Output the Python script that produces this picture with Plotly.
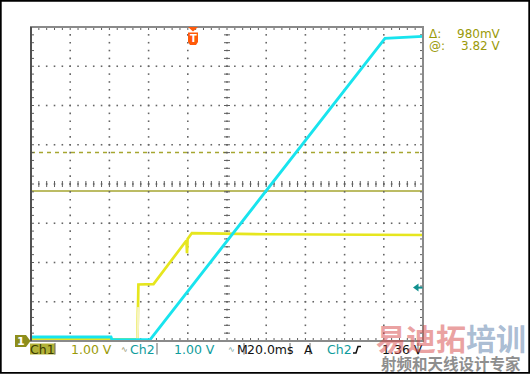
import plotly.graph_objects as go

# ---------------- data (time in ms from left edge, 20 ms/div; volts, 1 V/div) -------------
ch2_t = [0.0, 40.8, 41.3, 60.7, 180.6, 190.0, 200.0]
ch2_v = [0.10, 0.10, 0.03, 0.03, 7.71, 7.73, 7.76]

ch1_t = [0.0, 54.3, 54.8, 62.5, 79.3, 79.6, 79.9, 82.1, 120.0, 160.0, 200.0]
ch1_v = [0.04, 0.04, 1.44, 1.45, 2.56, 2.24, 2.60, 2.75, 2.72, 2.71, 2.70]

cursor_delta_mv = 980
cursor_at_v = 3.82
trigger_level_v = 1.36

bottom_labels = ["Ch1", "1.00 V", "Ch2", "1.00 V", "M", "20.0ms", "A", "Ch2", "1.36 V"]

# ---------------- pixel helpers (graticule: x 31..423 px, y 27..341 px) -------------------
PXX = 39.2 / 20.0      # px per ms
PXY = 39.25            # px per volt


def X(px):
    return (px - 31) / PXX


def Y(py):
    return (341 - py) / PXY


def path(points):
    s = "M " + " L ".join(f"{X(a):.4f},{Y(b):.4f}" for a, b in points)
    return s + " Z"


fig = go.Figure()

# grid dots
gx, gy = [], []
for k in range(1, 10):
    for j in range(41):
        gx.append(20 * k)
        gy.append(0.2 * j)
for k in range(1, 8):
    for i in range(51):
        gx.append(4 * i)
        gy.append(k)
fig.add_trace(go.Scatter(x=gx, y=gy, mode="markers", hoverinfo="skip",
                         marker=dict(symbol="square", size=1.6, color="#666666",
                                     line=dict(width=0))))

# tick marks (edges + centre cross)
tx, ty = [], []
hx = 3 / PXX
hy = 3 / PXY
for i in range(51):
    t = 4 * i
    tx += [t, t, None, t, t, None, t, t, None]
    ty += [8, 8 - hy, None, 0, hy, None, 4 - hy, 4 + hy, None]
for j in range(41):
    v = 0.2 * j
    tx += [0, hx, None, 200, 200 - hx, None, 100 - hx, 100 + hx, None]
    ty += [v, v, None, v, v, None, v, v, None]
fig.add_trace(go.Scatter(x=tx, y=ty, mode="lines", hoverinfo="skip",
                         line=dict(color="#5e5e5e", width=1)))

# Ch1 (yellow) and Ch2 (cyan)
fig.add_trace(go.Scatter(x=ch1_t, y=ch1_v, mode="lines", hoverinfo="skip",
                         line=dict(color="#e6e61e", width=2.7)))
fig.add_trace(go.Scatter(x=ch1_t[1:3], y=[ch1_v[1], ch1_v[2] * 0.6], mode="lines",
                         hoverinfo="skip", line=dict(color="#f6f3c0", width=2.4)))
fig.add_trace(go.Scatter(x=ch2_t, y=ch2_v, mode="lines", hoverinfo="skip",
                         line=dict(color="#18e4ee", width=2.9)))

shapes = []
olive = "#a6a630"
# cursors
shapes.append(dict(type="line", xref="x", yref="y", x0=0, x1=200,
                   y0=cursor_at_v, y1=cursor_at_v, layer="below",
                   line=dict(color=olive, width=1.5)))
v2 = cursor_at_v + cursor_delta_mv / 1000
shapes.append(dict(type="line", xref="x", yref="y", x0=0, x1=200, y0=v2, y1=v2,
                   layer="below", line=dict(color=olive, width=1.5, dash="4px,4px")))
# graticule frame
shapes.append(dict(type="rect", xref="x", yref="y", x0=0, x1=200, y0=0, y1=8,
                   line=dict(color="#8a8a8a", width=2)))
shapes.append(dict(type="line", xref="x", yref="y", x0=0, x1=0, y0=0, y1=8,
                   line=dict(color="#505050", width=2)))
# outer black border
shapes.append(dict(type="rect", xref="x", yref="y", x0=X(0.8), x1=X(529.2),
                   y0=Y(372.8), y1=Y(0.8), line=dict(color="black", width=1.8)))
# ground marker "1"
shapes.append(dict(type="path", xref="x", yref="y",
                   path=path([(15, 335), (26, 335), (30.5, 341), (26, 347), (15, 347)]),
                   fillcolor="#8e8e1c", line=dict(width=0)))
# trigger position marker
shapes.append(dict(type="path", xref="x", yref="y",
                   path=path([(188, 27), (198, 27), (193, 31.5)]),
                   fillcolor="#ff5a0a", line=dict(width=0)))
shapes.append(dict(type="path", xref="x", yref="y",
                   path=path([(188, 32.5), (198, 32.5), (198, 42), (196, 45), (190, 45), (188, 42)]),
                   fillcolor="#ff5a0a", line=dict(width=0)))
# trigger level arrow
tl_py = 341 - trigger_level_v * PXY
shapes.append(dict(type="path", xref="x", yref="y",
                   path=path([(413, tl_py), (418.5, tl_py - 4), (418.5, tl_py + 4)]),
                   fillcolor="#10908f", line=dict(width=0)))
shapes.append(dict(type="line", xref="x", yref="y", x0=X(417), x1=X(422.5),
                   y0=trigger_level_v, y1=trigger_level_v,
                   line=dict(color="#10908f", width=2)))
# Ch1 readout box
shapes.append(dict(type="rect", xref="x", yref="y", x0=X(30), x1=X(55),
                   y0=Y(354.5), y1=Y(343.5), fillcolor="#b2b238", line=dict(width=0)))
# separators
for sx in [55, 157, 244, 290, 310, 418]:
    shapes.append(dict(type="line", xref="x", yref="y", x0=X(sx), x1=X(sx),
                       y0=Y(354.5), y1=Y(343), line=dict(color="#666666", width=1)))
# rising edge symbol
shapes.append(dict(type="path", xref="x", yref="y",
                   path=f"M {X(353):.4f},{Y(353):.4f} L {X(356):.4f},{Y(353):.4f} "
                        f"L {X(358):.4f},{Y(346.5):.4f} L {X(361):.4f},{Y(346.5):.4f}",
                   line=dict(color="#111111", width=1.5)))

annotations = []


def txt(s, px, py, color, size=12.5, anchor="left", family="DejaVu Sans", bold=False):
    annotations.append(dict(xref="x", yref="y", x=X(px), y=Y(py), text=(f"<b>{s}</b>" if bold else s),
                            showarrow=False, xanchor=anchor, yanchor="middle",
                            font=dict(family=family, size=size, color=color)))


yel_txt = "#9a9a08"
teal_txt = "#109c9c"
txt("Δ:", 427, 33.5, yel_txt, 12)
txt(f"{cursor_delta_mv}mV", 503, 33.5, yel_txt, 12, anchor="right")
txt("@:", 427, 45.5, yel_txt, 12)
txt(f"{cursor_at_v:.2f} V", 503, 45.5, yel_txt, 12, anchor="right")

txt("1", 20.5, 341, "white", 11, anchor="center", bold=True)
txt("T", 193, 38.5, "white", 10, anchor="center", bold=True)

by = 349.5
txt(bottom_labels[0], 42.5, by, "#3c3c00", 12.5, anchor="center")
txt(bottom_labels[1], 69, by, yel_txt, 12.5)
txt("∿", 124, by, "#8a8a5a", 8, anchor="center")
txt(bottom_labels[2], 128, by, teal_txt, 12.5)
txt(bottom_labels[3], 172, by, teal_txt, 12.5)
txt("∿", 231, by, "#6a9a9a", 8, anchor="center")
txt(bottom_labels[4], 235, by, "#111111", 12.5)
txt(bottom_labels[5], 245, by, "#111111", 12.5)
txt(bottom_labels[6], 301.5, by, "#111111", 12.5)
txt(bottom_labels[7], 325, by, teal_txt, 12.5)
txt(bottom_labels[8], 380, by, "#111111", 12.5)

# watermark
annotations.append(dict(xref="x", yref="y", x=X(451), y=Y(336.5), showarrow=False,
                        xanchor="center", yanchor="middle",
                        text="<b><span style='color:rgba(214,70,70,0.5)'>易迪拓</span>"
                             "<span style='color:rgba(90,125,170,0.52)'>培训</span></b>",
                        font=dict(family="Noto Sans CJK SC", size=30)))
annotations.append(dict(xref="x", yref="y", x=X(451), y=Y(362.5), showarrow=False,
                        xanchor="center", yanchor="middle", text="<b>射频和天线设计专家</b>",
                        font=dict(family="Noto Sans CJK SC", size=15.5, color="#8e8e8e")))

fig.update_layout(
    width=530, height=374, margin=dict(l=0, r=0, t=0, b=0),
    paper_bgcolor="white", plot_bgcolor="white", showlegend=False,
    xaxis=dict(range=[X(0), X(530)], visible=False, fixedrange=True),
    yaxis=dict(range=[Y(374), Y(0)], visible=False, fixedrange=True),
    shapes=shapes, annotations=annotations,
)

fig.write_html("out.html")
